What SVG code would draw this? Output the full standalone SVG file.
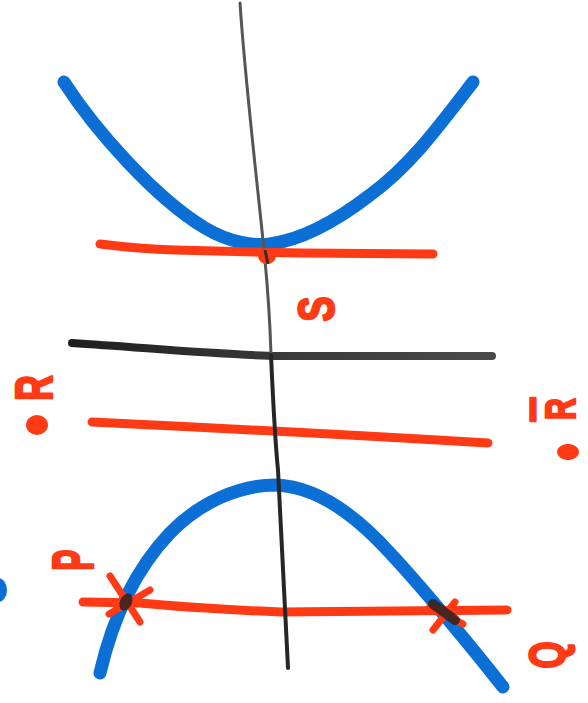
<svg xmlns="http://www.w3.org/2000/svg" width="588" height="703" viewBox="0 0 588 703">
  <defs>
    <linearGradient id="blackGrad" gradientUnits="userSpaceOnUse" x1="72" y1="0" x2="492" y2="0">
      <stop offset="0" stop-color="#1e1e1e"/>
      <stop offset="0.5" stop-color="#3a3a3a"/>
      <stop offset="1" stop-color="#4a4a4a"/>
    </linearGradient>
  </defs>
  <style>
    .blue { fill: none; stroke: #0b6fd6; stroke-width: 13; stroke-linecap: round; stroke-linejoin: round; }
    .red { fill: none; stroke: #ff3a14; stroke-width: 9; stroke-linecap: round; stroke-linejoin: round; }
    .redx { fill: none; stroke: #ff3a14; stroke-width: 7; stroke-linecap: round; }
    .black { fill: none; stroke: url(#blackGrad); stroke-width: 8; stroke-linecap: round; }
    .axis { fill: none; stroke-linecap: round; }
    .lbl { font-family: "Liberation Sans", Arial, sans-serif; font-weight: bold; fill: #ff3a14; stroke: #ff3a14; stroke-width: 2.5; stroke-linejoin: round; text-anchor: middle; dominant-baseline: central; }
    .dark { fill: #2b2220; opacity: 0.85; }
  </style>
  <rect width="588" height="703" fill="#ffffff"/>

  <g id="curves">
    <path id="upper-parabola" class="blue" d="M64,82 C95,130 155,198 205,228 C230,243 255,246 270,244 C300,240 335,222 370,195 C410,166 440,125 473,82"/>
    <path id="lower-parabola" class="blue" d="M100,673 C110,630 130,575 170,533 C200,502 240,485 275,485 C320,486 360,520 390,553 C420,585 470,645 503,687"/>
    <ellipse id="blue-dot" cx="-2" cy="590" rx="9" ry="12" fill="#0b6fd6"/>
  </g>

  <g id="lines">
    <path id="red-top" class="red" d="M100,244 Q140,249 175,250 L300,253 L433,254"/>
    <path id="black-mid" class="black" d="M72,343 C150,348 220,355 280,356 L492,356"/>
    <path id="red-mid" class="red" d="M92,422 Q300,432 488,443"/>
    <path id="red-bottom" class="red" d="M83,602 L140,603 Q190,608 280,612 L507,610"/>
  </g>

  <g id="axis">
    <path class="axis" stroke="#555555" stroke-width="3" d="M240,3 C245,80 258,190 264,250 C268,290 270,320 271,355"/>
    <path class="axis" stroke="#262626" stroke-width="4" d="M271,355 C273,400 275,440 278,470 C282,540 285,610 288,668"/>
  </g>

  <g id="marks">
    <ellipse cx="267" cy="256" rx="9" ry="8" fill="#ff3a14"/>
    <line x1="265" y1="250" x2="268" y2="264" stroke="#3a2a26" stroke-width="3"/>
    <g id="cross-P">
      <line class="redx" x1="110" y1="576" x2="140" y2="622"/>
      <line class="redx" x1="150" y1="590" x2="109" y2="614"/>
      <ellipse class="dark" cx="126" cy="602" rx="6" ry="9" transform="rotate(25 126 602)"/>
    </g>
    <g id="cross-Q">
      <line class="redx" x1="455" y1="602" x2="433" y2="630"/>
      <line class="redx" x1="430" y1="606" x2="463" y2="624"/>
      <path d="M433,604 L455,620" stroke="#2b2220" stroke-width="10" stroke-linecap="round" opacity="0.85"/>
    </g>
  </g>

  <g id="labels">
    <text class="lbl" font-size="50" transform="translate(316,309) rotate(-90) scale(0.75,1)">S</text>
    <text class="lbl" font-size="52" transform="translate(34,388) rotate(-90) scale(0.68,1)">R</text>
    <ellipse cx="37" cy="425" rx="11" ry="10" fill="#ff3a14"/>
    <text class="lbl" font-size="34" x="533" y="409">I</text>
    <text class="lbl" font-size="42" transform="translate(561,409) rotate(-90) scale(0.72,1)">R</text>
    <ellipse cx="568" cy="452" rx="11" ry="8" fill="#ff3a14"/>
    <text class="lbl" font-size="58" transform="translate(73,560) rotate(-90) scale(0.55,1)">P</text>
    <text class="lbl" font-size="50" transform="translate(548,655) rotate(-90) scale(0.7,1)">Q</text>
  </g>
</svg>
